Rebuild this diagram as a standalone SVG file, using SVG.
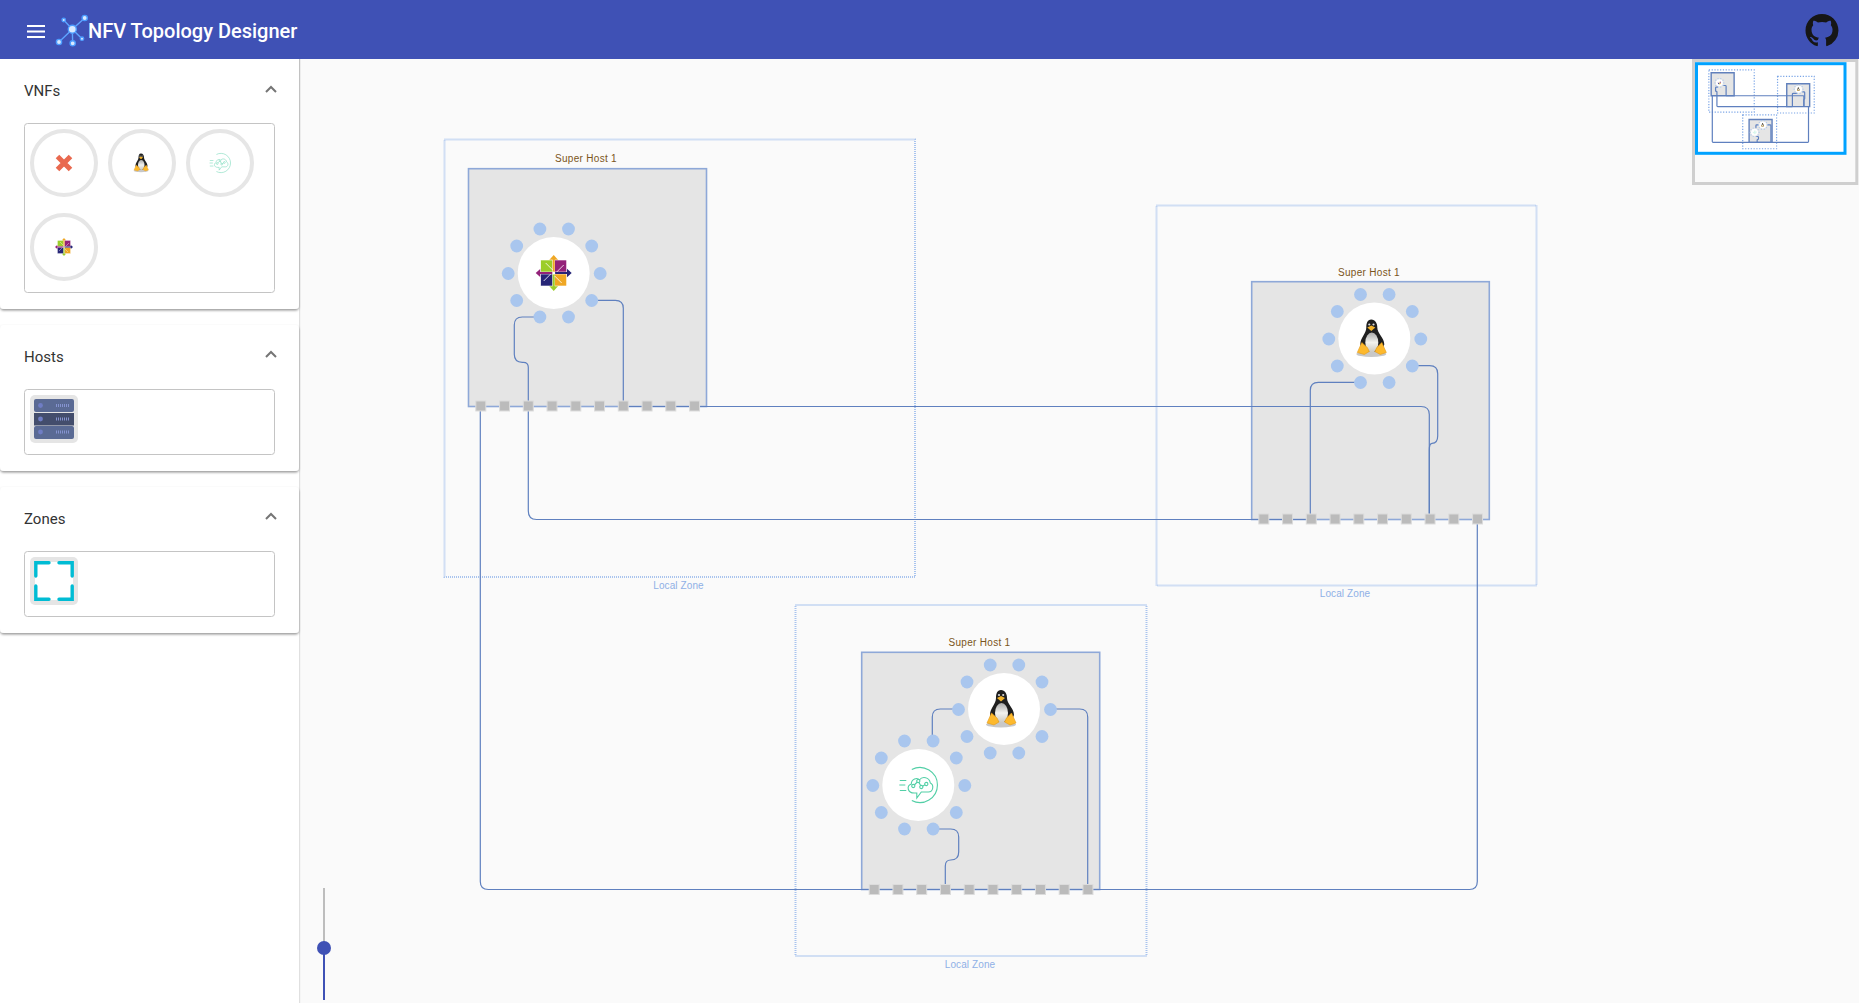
<svg xmlns="http://www.w3.org/2000/svg" xmlns:xlink="http://www.w3.org/1999/xlink" width="1859" height="1003" viewBox="0 0 1859 1003">
<style>
.ui{font-family:Roboto,"Liberation Sans",sans-serif}
.plabel{font-size:15px;fill:#333}
.hlabel{font-family:"Liberation Sans",Roboto,sans-serif;font-size:10px;fill:#7a5520;letter-spacing:.3px;text-anchor:middle}
.zlabel{font-family:"Liberation Sans",Roboto,sans-serif;font-size:10px;fill:#8fb0e6;letter-spacing:.1px;text-anchor:middle}
.zone{fill:none;stroke:#a9c4ee;stroke-width:2;stroke-dasharray:1 1}
.host{fill:#e5e5e5;stroke:#8ea8d8;stroke-width:1.600}
.link{fill:none;stroke:#5f80bf;stroke-width:1.200;vector-effect:non-scaling-stroke}
.box{fill:#fff;stroke:#c4c4c4;stroke-width:1}
.ring{fill:#fff;stroke:#e6e6e6;stroke-width:4}
.vm{fill:#fff}
.vp{fill:#a9c6ee}
.hp{fill:#bbb;stroke:#dcdcdc;stroke-width:1}
.chev{fill:none;stroke:#757575;stroke-width:2}
.tile{fill:#e5e5e5}
.mz{fill:none;stroke:#79a4e6;stroke-width:1.200;stroke-dasharray:1.200 1.600}
.mh{fill:#e5e5e5;stroke:#6180bc;stroke-width:1.400}
.logoL{stroke:#5ea4ff;stroke-width:1.400}
.logoN{fill:#d9e9ff;stroke:#4c9cff;stroke-width:1.400}
</style>
<defs>
<filter id="shadow" x="-5%" y="-5%" width="110%" height="115%"><feDropShadow dx="0" dy="1.500" stdDeviation="1.200" flood-color="#000" flood-opacity=".4"/></filter>
<linearGradient id="belly" x1="0" y1="0" x2="0" y2="1"><stop offset="0" stop-color="#aaa"/><stop offset=".5" stop-color="#f2f2ee"/><stop offset="1" stop-color="#c9c7c0"/></linearGradient>
<g id="i-penguin">
<ellipse cx="-3" cy="15.500" rx="15" ry="3" fill="#c8c8c8"/>
<path d="M-3-19C-7-19-8-15-8-11-8-5-14-1-14 6L-12 13H7L10 6C10-1 3-5 3-11 3-15 1-19-3-19Z" fill="#1f1f1f"/>
<ellipse cx="-2.500" cy="4" rx="6.500" ry="10" fill="url(#belly)"/>
<path d="M-7-11-3-13 1-11-3-7.500Z" fill="#f4b42a"/>
<circle cx="-5" cy="-14" r="1.100" fill="#ddd"/><circle cx="-.8" cy="-14" r="1.100" fill="#ddd"/>
<path d="M-17 14-12.500 4-7 9-5 13-10 16Z" fill="#fdb92c" stroke="#e39a1a" stroke-width=".6"/>
<path d="M12 14 7.500 4 2.500 9 .5 13 6 16Z" fill="#fdb92c" stroke="#e39a1a" stroke-width=".6"/>
</g>
<g id="i-centos">
<path d="M-4.500-13 0-18 4.500-13Z" fill="#efa724"/><path d="M13-4.500 18 0 13 4.500Z" fill="#262577"/><path d="M4.500 13 0 18-4.500 13Z" fill="#9ccd2a"/><path d="M-13 4.500-18 0-13-4.500Z" fill="#932279"/>
<g stroke="#fff" stroke-width=".6"><rect x="-13" y="-13" width="12" height="12" fill="#9ccd2a"/><rect x="1" y="-13" width="12" height="12" fill="#932279"/><rect x="-13" y="1" width="12" height="12" fill="#262577"/><rect x="1" y="1" width="12" height="12" fill="#efa724"/></g>
<rect x="-1" y="-14" width="2" height="14" fill="#efa724"/><rect x="0" y="-1" width="14" height="2" fill="#262577"/><rect x="-1" y="0" width="2" height="14" fill="#9ccd2a"/><rect x="-14" y="-1" width="14" height="2" fill="#932279"/>
<path d="M-8-10-1-3M10-8 3-1M8 10 1 3M-10 8-3 1" stroke="#fff" stroke-width=".8" fill="none"/>
<circle r="1.600" fill="#fff"/>
</g>
<g id="i-cloud" fill="none" stroke="#52cfa6" stroke-width="1.100">
<path d="M-6.500-15.500A17.500 17.500 0 1 1-6.500 15.500"/>
<path d="M-4 8C-11 8-12 1-7-1-7-6-1-8 1-5 4-9 11-8 12-2 16 0 15 7 10 7H3L-1.500 13V8Z"/>
<path d="M-18.500-4.500H-12M-19 0H-13M-18.500 5.500H-12" />
<path d="M-5 1 0-4 3 2 8-1"/>
<g fill="#fff"><circle cx="-5" cy="1" r="1.600"/><circle cx="0" cy="-4" r="1.600"/><circle cx="3" cy="2" r="1.600"/><circle cx="8" cy="-1" r="1.600"/></g>
</g>
<g id="vmports">
<circle class="vp" cx="-13.800" cy="-44" r="6.400"/><circle class="vp" cx="14.800" cy="-44" r="6.400"/><circle class="vp" cx="-37" cy="-27" r="6.400"/><circle class="vp" cx="38" cy="-27" r="6.400"/><circle class="vp" cx="-45.500" cy="0.500" r="6.400"/><circle class="vp" cx="46.500" cy="0.500" r="6.400"/><circle class="vp" cx="-37" cy="27.500" r="6.400"/><circle class="vp" cx="38" cy="27.500" r="6.400"/><circle class="vp" cx="-13.800" cy="44" r="6.400"/><circle class="vp" cx="14.800" cy="44" r="6.400"/>
</g>
<g id="hostports">
<rect class="hp" x="-5" y="-5" width="10" height="10"/><rect class="hp" x="18.750" y="-5" width="10" height="10"/><rect class="hp" x="42.500" y="-5" width="10" height="10"/><rect class="hp" x="66.250" y="-5" width="10" height="10"/><rect class="hp" x="90" y="-5" width="10" height="10"/><rect class="hp" x="113.750" y="-5" width="10" height="10"/><rect class="hp" x="137.500" y="-5" width="10" height="10"/><rect class="hp" x="161.250" y="-5" width="10" height="10"/><rect class="hp" x="185" y="-5" width="10" height="10"/><rect class="hp" x="208.750" y="-5" width="10" height="10"/>
</g>
</defs>

<rect width="1859" height="1003" fill="#fafafa"/>

<g id="sidebar">
<rect x="0" y="59" width="299" height="944" fill="#fff"/>
<rect x="299" y="59" width="1.200" height="944" fill="#e0e0e0"/>
<g id="panel-vnfs">
<rect x="0" y="50" width="299" height="259" rx="4" fill="#fff" filter="url(#shadow)"/>
<text class="ui plabel" x="24" y="96">VNFs</text>
<path class="chev" d="M266 92 271 87 276 92"/>
<rect class="box" x="24.500" y="123.500" width="250" height="169" rx="3"/>
<circle class="ring" cx="64" cy="163" r="32"/><circle class="ring" cx="142" cy="163" r="32"/><circle class="ring" cx="220" cy="163" r="32"/><circle class="ring" cx="64" cy="247" r="32"/>
<path d="M57.500 156.500 70.500 169.500M70.500 156.500 57.500 169.500" stroke="#e9694f" stroke-width="5" fill="none"/>
<use href="#i-penguin" transform="translate(142.500 163) scale(.5)"/>
<use href="#i-cloud" transform="translate(220 163) scale(.55)" opacity=".75"/>
<use href="#i-centos" transform="translate(64 247) scale(.5)"/>
</g>
<g id="panel-hosts">
<rect x="0" y="325" width="299" height="146" rx="4" fill="#fff" filter="url(#shadow)"/>
<text class="ui plabel" x="24" y="362">Hosts</text>
<path class="chev" d="M266 357 271 352 276 357"/>
<rect class="box" x="24.500" y="389.500" width="250" height="65" rx="3"/>
<rect class="tile" x="30" y="395" width="48" height="48" rx="5"/>
<rect x="34" y="399" width="40" height="13" rx="2" fill="#5a6a94"/><rect x="34" y="413" width="40" height="12.500" fill="#434d6c"/><rect x="34" y="426" width="40" height="13" rx="2" fill="#5a6a94"/>
<circle cx="40.500" cy="405.500" r="2.400" fill="#6f7dc4"/><circle cx="40.500" cy="419" r="2.400" fill="#6f7dc4"/><circle cx="40.500" cy="432" r="2.400" fill="#6f7dc4"/>
<path d="M56 405.500H70M56 419H70M56 432H70" stroke="#8593d0" stroke-width="3" stroke-dasharray="1 1" fill="none"/>
</g>
<g id="panel-zones">
<rect x="0" y="487" width="299" height="146" rx="4" fill="#fff" filter="url(#shadow)"/>
<text class="ui plabel" x="24" y="524">Zones</text>
<path class="chev" d="M266 519 271 514 276 519"/>
<rect class="box" x="24.500" y="551.500" width="250" height="65" rx="3"/>
<rect class="tile" x="30" y="557" width="48" height="48" rx="5"/>
<rect x="35" y="562" width="38" height="38" fill="#fff"/>
<path d="M49 562.800H35.800V576M59 562.800H72.200V576M49 599.200H35.800V586M59 599.200H72.200V586" stroke="#00bcd4" stroke-width="3.400" fill="none" stroke-linecap="round"/>
</g>
</g>

<g id="header">
<rect width="1859" height="59" fill="#3f51b5"/>
<path d="M27 26H45M27 31.500H45M27 37H45" stroke="#fff" stroke-width="2" fill="none"/>
<g id="logo">
<path class="logoL" d="M72.300 29.300 84.700 18M72.300 29.300 63.700 20M72.300 29.300 59 42M72.300 29.300 72.700 43.300M72.300 29.300 82 38.700" fill="none"/>
<circle class="logoN" cx="72.300" cy="29.300" r="4"/><circle class="logoN" cx="84.700" cy="18" r="2.600"/><circle class="logoN" cx="63.700" cy="20" r="1.700"/><circle class="logoN" cx="59" cy="42" r="2.600"/><circle class="logoN" cx="72.700" cy="43.300" r="2.600"/><circle class="logoN" cx="82" cy="38.700" r="1.700"/>
</g>
<text class="ui" x="88" y="38" font-size="20" font-weight="500" fill="#fff">NFV Topology Designer</text>
<path id="github" transform="translate(1805.500 14) scale(2.060)" fill="#161616" d="M8 0C3.580 0 0 3.580 0 8c0 3.540 2.290 6.530 5.470 7.590.4.070.55-.17.55-.38 0-.19-.01-.82-.01-1.490-2.010.37-2.530-.49-2.690-.94-.09-.23-.48-.94-.82-1.130-.28-.15-.68-.52-.01-.53.63-.01 1.080.58 1.230.82.72 1.210 1.870.87 2.330.66.07-.52.28-.87.51-1.070-1.780-.2-3.640-.89-3.640-3.950 0-.87.31-1.590.82-2.150-.08-.2-.36-1.020.08-2.120 0 0 .67-.21 2.200.82.64-.18 1.320-.27 2-.27.68 0 1.360.09 2 .27 1.530-1.040 2.200-.82 2.200-.82.44 1.100.16 1.920.08 2.120.51.56.82 1.270.82 2.150 0 3.070-1.870 3.750-3.650 3.950.29.25.54.73.54 1.480 0 1.070-.01 1.930-.01 2.200 0 .21.15.46.55.38A8.013 8.013 0 0016 8c0-4.420-3.580-8-8-8z"/>
</g>

<g id="zone-1"><rect class="zone" x="444.500" y="139.500" width="470.500" height="437.500"/><text class="zlabel" x="678.500" y="588.500">Local Zone</text></g>
<g id="zone-2"><rect class="zone" x="1156.500" y="205.500" width="380" height="380"/><text class="zlabel" x="1345" y="597">Local Zone</text></g>
<g id="zone-3"><rect class="zone" x="795.500" y="605" width="351" height="351"/><text class="zlabel" x="970" y="967.500">Local Zone</text></g>

<g id="host-1"><rect class="host" x="468.500" y="168.700" width="238" height="237.800"/><text class="hlabel" x="586" y="162">Super Host 1</text></g>
<g id="host-2"><rect class="host" x="1251.700" y="281.700" width="237.600" height="237.800"/><text class="hlabel" x="1369" y="276">Super Host 1</text></g>
<g id="host-3"><rect class="host" x="861.700" y="652.300" width="238" height="237.200"/><text class="hlabel" x="979.500" y="646">Super Host 1</text></g>

<g id="connectors">
<path class="link" d="M591.700 300.300H615.300Q623.300 300.300 623.300 308.300V406"/>
<path class="link" d="M623.300 406.500H1421Q1429.300 406.500 1429.300 414.500V519"/>
<path class="link" d="M539.700 317H522.300Q514.300 317 514.300 325V354.300Q514.300 362.300 522.300 362.300H523.300Q528.300 362.300 528.300 367.300V406"/>
<path class="link" d="M528.300 406V511Q528.300 519.500 536.500 519.500H1310.300"/>
<path class="link" d="M1310.300 519V390.300Q1310.300 382.300 1318.300 382.300H1360.700"/>
<path class="link" d="M1412.300 365.700H1429.700Q1437.700 365.700 1437.700 373.700V436Q1437.700 443.300 1432 443.300Q1429.300 443.300 1429.300 450V519"/>
<path class="link" d="M480.300 406V881.500Q480.300 889.500 488.300 889.500H1469.300Q1477.300 889.500 1477.300 881.500V519"/>
<path class="link" d="M958 709H940.300Q932.300 709 932.300 717V741"/>
<path class="link" d="M933 829H950.700Q958.700 829 958.700 837V852Q958.700 860 950.700 860Q945.300 860 945.300 866V889"/>
<path class="link" d="M1050.700 709H1079.700Q1087.700 709 1087.700 717V889"/>
</g>

<g id="host-1-ports"><use href="#hostports" transform="translate(480.800 406)"/></g>
<g id="host-2-ports"><use href="#hostports" transform="translate(1263.800 519)"/></g>
<g id="host-3-ports"><use href="#hostports" transform="translate(874.200 889.500)"/></g>

<g id="vnf-centos" transform="translate(553.700 273)"><circle class="vm" r="36"/><use href="#vmports"/><use href="#i-centos"/></g>
<g id="vnf-linux-1" transform="translate(1374.300 338.500)"><circle class="vm" r="36"/><use href="#vmports"/><use href="#i-penguin"/></g>
<g id="vnf-linux-2" transform="translate(1004 709)"><circle class="vm" r="36"/><use href="#vmports"/><use href="#i-penguin"/></g>
<g id="vnf-cloud" transform="translate(918.300 785)"><circle class="vm" r="36"/><use href="#vmports"/><use href="#i-cloud"/></g>

<g id="slider">
<rect x="323" y="888" width="2" height="60" fill="#bdbdbd"/>
<rect x="323" y="948" width="2" height="52" fill="#3f51b5"/>
<circle cx="324" cy="948" r="7" fill="#3f51b5"/>
</g>

<g id="minimap">
<rect x="1693.500" y="60.500" width="163.300" height="123" fill="#fafafa" stroke="#cfcfcf" stroke-width="3"/>
<rect x="1696.500" y="63.700" width="148.500" height="89.600" fill="#fff" stroke="#00a2ff" stroke-width="3"/>
<g transform="translate(1665.950 56.500) scale(.0965)">
<rect class="mz" vector-effect="non-scaling-stroke" x="444.500" y="139.500" width="470.500" height="437.500"/>
<rect class="mz" vector-effect="non-scaling-stroke" x="1156.500" y="205.500" width="380" height="380"/>
<rect class="mz" vector-effect="non-scaling-stroke" x="795.500" y="605" width="351" height="351"/>
<rect class="mh" vector-effect="non-scaling-stroke" x="468.500" y="168.700" width="238" height="237.800"/>
<rect class="mh" vector-effect="non-scaling-stroke" x="1251.700" y="281.700" width="237.600" height="237.800"/>
<rect class="mh" vector-effect="non-scaling-stroke" x="861.700" y="652.300" width="238" height="237.200"/>
<use href="#connectors"/>
<g transform="translate(553.700 273)"><circle class="vm" r="36"/><use href="#vmports"/><use href="#i-centos"/></g>
<g transform="translate(1374.300 338.500)"><circle class="vm" r="36"/><use href="#vmports"/><use href="#i-penguin"/></g>
<g transform="translate(1004 709)"><circle class="vm" r="36"/><use href="#vmports"/><use href="#i-penguin"/></g>
<g transform="translate(918.300 785)"><circle class="vm" r="36"/><use href="#vmports"/><use href="#i-cloud"/></g>
</g>
</g>
</svg>
